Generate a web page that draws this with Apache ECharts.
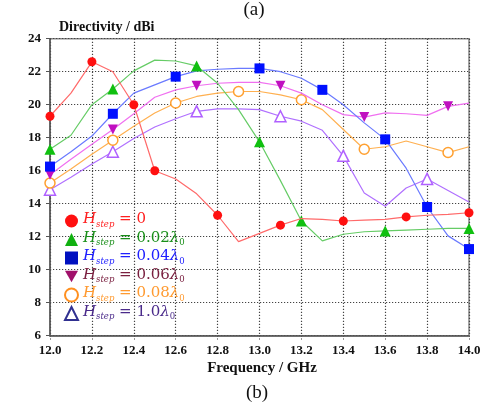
<!DOCTYPE html>
<html><head><meta charset="utf-8">
<script src="https://cdn.jsdelivr.net/npm/echarts@6/dist/echarts.min.js"></script>
<style>html,body{margin:0;padding:0;background:#fff}#c{width:492px;height:403px}</style>
</head><body><div id="c"></div>
<script>
// ---- data ----
const freq = [12.0,12.1,12.2,12.3,12.4,12.5,12.6,12.7,12.8,12.9,13.0,13.1,13.2,13.3,13.4,13.5,13.6,13.7,13.8,13.9,14.0];
const xTicks = ['12.0','12.2','12.4','12.6','12.8','13.0','13.2','13.4','13.6','13.8','14.0'];
const yTicks = [6,8,10,12,14,16,18,20,22,24];

const h0   = [19.3,20.7,22.6,22.0,20.0,16.0,15.5,14.6,13.3,11.7,12.2,12.7,13.1,13.05,12.95,13.0,13.05,13.2,13.3,13.35,13.45];
const h002 = [17.3,18.15,20.0,20.95,22.05,22.7,22.65,22.35,21.3,19.7,17.75,15.4,12.95,11.75,12.15,12.3,12.35,12.4,12.45,12.5,12.5];
const h004 = [16.25,17.15,18.1,19.45,20.7,21.2,21.7,22.05,22.15,22.2,22.2,22.0,21.6,20.9,20.0,18.9,17.9,16.15,13.8,12.05,11.25];
const h006 = [15.75,16.7,17.6,18.5,19.45,20.45,20.9,21.15,21.3,21.35,21.35,21.15,20.7,20.0,19.4,19.25,19.5,19.45,19.35,19.9,20.1];
const h008 = [15.25,16.1,17.0,17.85,18.7,19.5,20.1,20.5,20.7,20.8,20.8,20.6,20.3,19.7,18.5,17.3,17.45,17.8,17.45,17.1,17.45];
const h10  = [14.85,15.6,16.4,17.15,17.95,18.65,19.15,19.6,19.75,19.75,19.7,19.3,19.0,18.45,16.9,14.65,13.85,14.95,15.5,14.8,14.1];

const marks0   = [12.0,12.2,12.4,12.5,12.8,13.1,13.4,13.7,14.0];
const marks002 = [12.0,12.3,12.7,13.0,13.2,13.6,14.0];
const marks004 = [12.0,12.3,12.6,13.0,13.3,13.6,13.8,14.0];
const marks006 = [12.0,12.3,12.7,13.1,13.5,13.9];
const marks008 = [12.0,12.3,12.6,12.9,13.2,13.5,13.9];
const marks10  = [12.0,12.3,12.7,13.1,13.4,13.8];

const seriesNames = ['Hstep=0','Hstep=0.02','Hstep=0.04','Hstep=0.06','Hstep=0.08','Hstep=1.0'];
const legendVals = ['0','0.02','0.04','0.06','0.08','1.0'];

// ---- styles ----
const FONT = 'Liberation Serif';
const LFONT = 'DejaVu Serif';
const styles = [
  {line:'#ff6a6a', fill:'#ff1010', border:'#ff1010', sym:'circle', size:9, rot:0, txt:'#ff2020', icon:'circle', iconFill:'#ff1010', iconBorder:'#ff1010'},
  {line:'#66cc66', fill:'#10c010', border:'#10c010', sym:'triangle', size:11, rot:0, txt:'#1a8f1a', icon:'triangle', iconFill:'#10b010', iconBorder:'#10b010'},
  {line:'#6a7aff', fill:'#0010ff', border:'#0010ff', sym:'rect', size:10, rot:0, txt:'#2020ff', icon:'rect', iconFill:'#0010c0', iconBorder:'#0010c0'},
  {line:'#f070f0', fill:'#c010c0', border:'#c010c0', sym:'triangle', size:10, rot:180, txt:'#7a2040', icon:'path://M0,0L10,0L5,9Z', iconFill:'#a0106a', iconBorder:'#a0106a'},
  {line:'#ffb050', fill:'#ffffff', border:'#ffa030', sym:'circle', size:10, rot:0, txt:'#ff9a30', icon:'circle', iconFill:'#ffffff', iconBorder:'#ff9020'},
  {line:'#b070ff', fill:'#ffffff', border:'#b060ff', sym:'triangle', size:11, rot:0, txt:'#4a2a8a', icon:'triangle', iconFill:'#ffffff', iconBorder:'#303090'}
];
const allVals = [h0,h002,h004,h006,h008,h10];
const allMarks = [marks0,marks002,marks004,marks006,marks008,marks10];

function build(vals, marks){
  return freq.map((f,i)=>{
    const on = marks.some(m=>Math.abs(m-f)<1e-6);
    return on ? {value:[f, vals[i]]} : {value:[f, vals[i]], symbol:'none'};
  });
}

const series = allVals.map((v,k)=>({
  name: seriesNames[k], type:'line', data: build(v, allMarks[k]),
  symbol: styles[k].sym, symbolSize: styles[k].size, symbolRotate: styles[k].rot,
  showSymbol:true, z: 10-k,
  lineStyle:{color:styles[k].line, width:1.2},
  itemStyle:{color:styles[k].fill, borderColor:styles[k].border, borderWidth: (k>=4?1.5:0)},
  emphasis:{disabled:true}, animation:false
}));

const rich = {};
styles.forEach((s,i)=>{
  rich['h'+i] = {fontFamily:LFONT, fontSize:15, fontStyle:'italic', color:s.txt, lineHeight:18, verticalAlign:'top'};
  rich['s'+i] = {fontFamily:LFONT, fontSize:8.5, fontStyle:'italic', color:s.txt, lineHeight:9, padding:[8,0,0,0], verticalAlign:'top'};
  rich['t'+i] = {fontFamily:LFONT, fontSize:15, color:s.txt, lineHeight:18, verticalAlign:'top'};
  rich['l'+i] = {fontFamily:LFONT, fontSize:15, fontStyle:'italic', color:s.txt, lineHeight:18, verticalAlign:'top'};
  rich['z'+i] = {fontFamily:LFONT, fontSize:8.5, color:s.txt, lineHeight:9, padding:[8,0,0,0], verticalAlign:'top'};
});

const chart = echarts.init(document.getElementById('c'), null, {renderer:'canvas'});
chart.setOption({
  animation:false,
  backgroundColor:'#ffffff',
  textStyle:{fontFamily:FONT},
  graphic:[
    {type:'text', x:254, y:1, style:{text:'(a)', font:'19px "Liberation Serif"', fill:'#111', textAlign:'center', textVerticalAlign:'top'}},
    {type:'text', x:59, y:20, style:{text:'Directivity / dBi', font:'bold 14px "Liberation Serif"', fill:'#111', textAlign:'left', textVerticalAlign:'top'}},
    {type:'text', x:262, y:361, style:{text:'Frequency / GHz', font:'bold 15px "Liberation Serif"', fill:'#111', textAlign:'center', textVerticalAlign:'top'}},
    {type:'text', x:257, y:384, style:{text:'(b)', font:'19px "Liberation Serif"', fill:'#111', textAlign:'center', textVerticalAlign:'top'}}
  ],
  grid:{left:50, right:23, top:38.7, bottom:67.3, show:true, borderColor:'#888', borderWidth:1.5, backgroundColor:'transparent'},
  xAxis:{type:'value', min:12, max:14, interval:0.2,
    axisLine:{show:true, onZero:false, lineStyle:{color:'#555', width:1.5}},
    axisTick:{show:true, length:5, lineStyle:{color:'#555', type:[1.2,1.5]}},
    axisLabel:{margin:8, fontFamily:FONT, fontSize:13, fontWeight:'bold', color:'#111',
      formatter:(v)=>{const s=v.toFixed(1); return xTicks.indexOf(s)>=0?s:'';}},
    splitLine:{show:true, lineStyle:{color:'#444', width:1.2, type:[1.2,1.8]}}
  },
  yAxis:{type:'value', min:6, max:24, interval:2,
    axisLine:{show:true, onZero:false, lineStyle:{color:'#555', width:1.5}},
    axisTick:{show:true, length:4, lineStyle:{color:'#555'}},
    axisLabel:{margin:9, fontFamily:FONT, fontSize:13, fontWeight:'bold', color:'#111',
      formatter:(v)=> yTicks.indexOf(v)>=0 ? String(v) : ''},
    splitLine:{show:true, lineStyle:{color:'#444', width:1.2, type:[1.2,1.8]}}
  },
  legend:{
    orient:'vertical', left:59, top:207, itemGap:1.5, itemWidth:13, itemHeight:13,
    selectedMode:false,
    data: seriesNames.map((n,i)=>({name:n, icon:styles[i].icon,
      itemStyle:{color:styles[i].iconFill, borderColor:styles[i].iconBorder, borderWidth:(i>=4?2:0)}})),
    textStyle:{fontFamily:LFONT, fontSize:15, rich:rich},
    formatter:(name)=>{
      const i = seriesNames.indexOf(name);
      let s = `{h${i}|H}{s${i}|step}{t${i}| = ${legendVals[i]}}`;
      if(i>0) s += `{l${i}|λ}{z${i}|0}`;
      return s;
    }
  },
  series: series
});
</script>
</body></html>
